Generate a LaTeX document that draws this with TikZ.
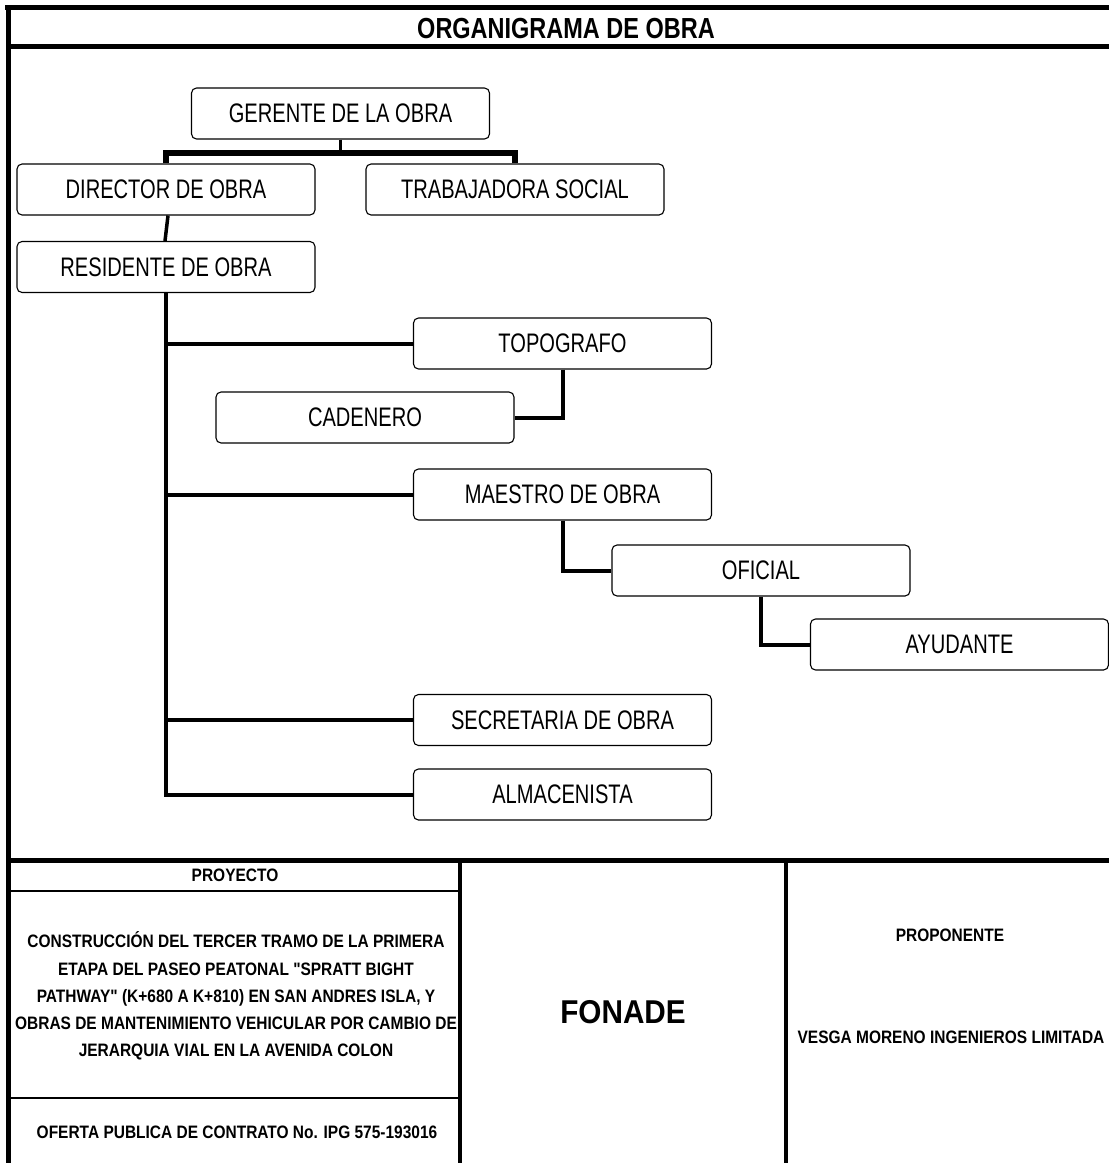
\documentclass[tikz,border=0pt]{standalone}
\usepackage{fontspec}
\setmainfont{Liberation Sans}
\newfontfamily\boxfont{Liberation Sans}[FakeStretch=0.75]
\newfontfamily\titlefont{Liberation Sans}[FakeStretch=0.81]
\newfontfamily\infofont{Liberation Sans}[FakeStretch=0.86]
\newfontfamily\bigfont{Liberation Sans}[FakeStretch=0.9]
\begin{document}
\begin{tikzpicture}[x=1pt,y=-1pt,
  orgbox/.style={draw, rounded corners=5pt, line width=1.1pt, minimum width=298pt,
    minimum height=51pt, inner sep=0pt, font=\boxfont\fontsize{26.8}{30}\selectfont},
  conn/.style={line width=4pt},
  barline/.style={line width=5.5pt},
  frameline/.style={line width=5pt},
  midline/.style={line width=3.5pt},
  thinline/.style={line width=2pt},
  infotext/.style={inner sep=0pt, align=center, font=\infofont\bfseries\fontsize{18}{27.2}\selectfont}]
\useasboundingbox (0,0) rectangle (1109,1163);
\clip (0,0) rectangle (1109,1163);

% frame
\draw[frameline] (5,7) -- (1115,7);
\draw[frameline] (8,5) -- (8,1170);
\draw[frameline] (8,46) -- (1115,46);
\draw[frameline] (8,860) -- (1115,860);
\draw[midline] (460,860) -- (460,1170);
\draw[midline] (786,860) -- (786,1170);
\draw[thinline] (8,891) -- (460,891);
\draw[thinline] (8,1098) -- (460,1098);

% title
\node[inner sep=0pt, font=\titlefont\bfseries\fontsize{29}{32}\selectfont] (title) at (566,29) {ORGANIGRAMA DE OBRA};

% boxes
\node[orgbox] (ger) at (340.5,113.5) {GERENTE DE LA OBRA};
\node[orgbox] (dir) at (166,189.5) {DIRECTOR DE OBRA};
\node[orgbox] (tra) at (515,189.5) {TRABAJADORA SOCIAL};
\node[orgbox] (res) at (166,267) {RESIDENTE DE OBRA};
\node[orgbox] (top) at (562.5,343.5) {TOPOGRAFO};
\node[orgbox] (cad) at (365,417.5) {CADENERO};
\node[orgbox] (mae) at (562.5,494.5) {MAESTRO DE OBRA};
\node[orgbox] (ofi) at (761,570.5) {OFICIAL};
\node[orgbox] (ayu) at (959.5,644.5) {AYUDANTE};
\node[orgbox] (sec) at (562.5,720) {SECRETARIA DE OBRA};
\node[orgbox] (alm) at (562.5,794.5) {ALMACENISTA};

% connectors
\draw[midline] (ger.south) -- ++(0,14);
\draw[barline] (dir.north) -- ++(0,-10.5) -| (tra.north);
\draw[midline] ([xshift=2pt]dir.south) -- ([xshift=-1pt]res.north);
\draw[conn] (res.south) |- (alm.west);
\draw[conn] (res.south |- top.west) -- (top.west);
\draw[conn] (res.south |- mae.west) -- (mae.west);
\draw[conn] (res.south |- sec.west) -- (sec.west);
\draw[conn] (top.south) |- (cad.east);
\draw[conn] (mae.south) |- (ofi.west);
\draw[conn] (ofi.south) |- (ayu.west);

% bottom table
\node[infotext] (proy) at (235,875) {PROYECTO};
\node[infotext] (desc) at (236,996) {CONSTRUCCIÓN DEL TERCER TRAMO DE LA PRIMERA\\
ETAPA DEL PASEO PEATONAL "SPRATT BIGHT\\
PATHWAY" (K+680 A K+810) EN SAN ANDRES ISLA, Y\\
OBRAS DE MANTENIMIENTO VEHICULAR POR CAMBIO DE\\
JERARQUIA VIAL EN LA AVENIDA COLON};
\node[infotext] (ofer) at (237,1132) {OFERTA PUBLICA DE CONTRATO No. IPG 575-193016};
\node[inner sep=0pt, font=\bigfont\bfseries\fontsize{33}{36}\selectfont] (fon) at (623,1012) {FONADE};
\node[infotext] (prop) at (950,935) {PROPONENTE};
\node[infotext] (vesga) at (951,1037) {VESGA MORENO INGENIEROS LIMITADA};
\end{tikzpicture}
\end{document}
